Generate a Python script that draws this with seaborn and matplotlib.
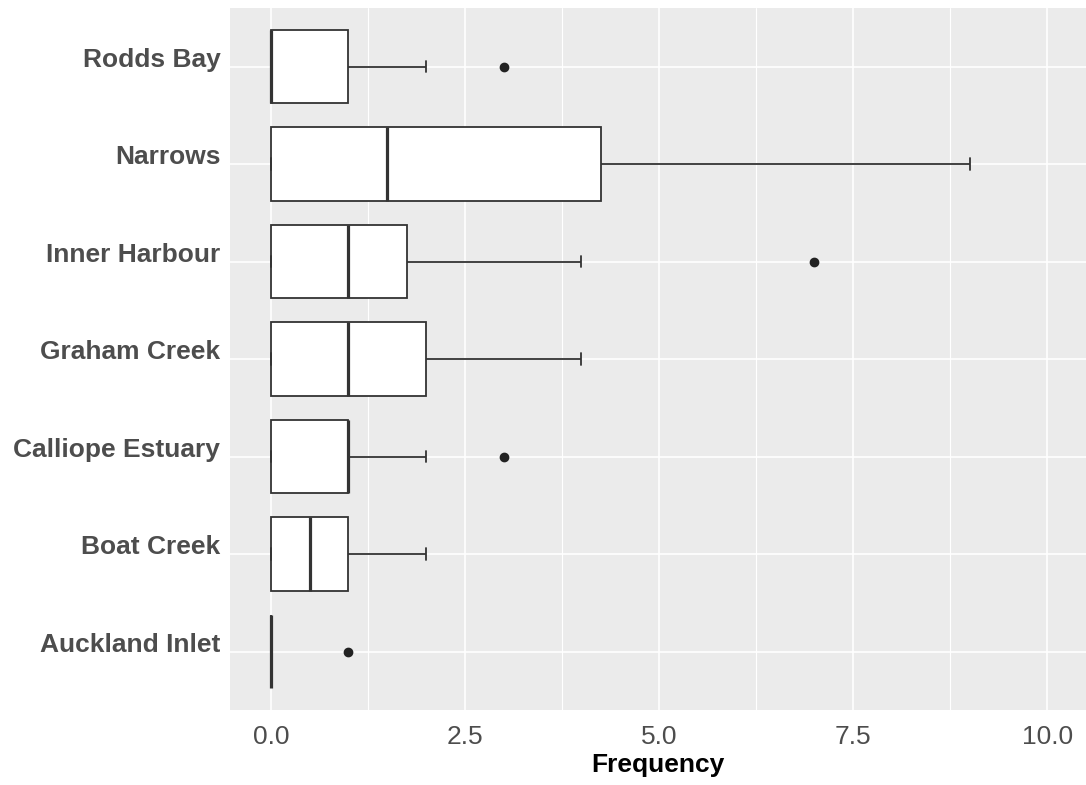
import pandas as pd
import numpy as np
import matplotlib
matplotlib.use('Agg')
import matplotlib.pyplot as plt
import seaborn as sns

# ── Data: counts per site (chosen so the box stats match the chart) ─────
sites = ['Rodds Bay', 'Narrows', 'Inner Harbour', 'Graham Creek',
         'Calliope Estuary', 'Boat Creek', 'Auckland Inlet']
rodds_bay        = [0, 0, 0, 0, 0, 1, 1, 2, 3]
narrows          = [0, 0, 0, 1, 2, 4, 5, 9]
inner_harbour    = [0, 0, 0, 1, 1, 1, 4, 7]
graham_creek     = [0, 0, 1, 2, 4]
calliope_estuary = [0, 0, 0, 1, 1, 1, 1, 2, 3]
boat_creek       = [0, 0, 0, 1, 1, 2]
auckland_inlet   = [0, 0, 0, 0, 1]

counts = [rodds_bay, narrows, inner_harbour, graham_creek,
          calliope_estuary, boat_creek, auckland_inlet]
df = pd.DataFrame({
    'Site': np.repeat(sites, [len(c) for c in counts]),
    'Frequency': np.concatenate(counts),
})

# ── Styling ───────────────────────────────────────────────────────────────
sns.set_style('white')
plt.rcParams['font.family'] = ['Liberation Sans', 'DejaVu Sans']
LINE = '#333333'
TEXT = '#4D4D4D'

fig = plt.figure(figsize=(10.86, 7.85), dpi=100)
ax = fig.add_axes([230 / 1086, 1 - 710 / 785, 1 - 230 / 1086, (710 - 8) / 785])
ax.set_facecolor('#EBEBEB')

sns.boxplot(data=df, x='Frequency', y='Site', order=sites, ax=ax,
            width=0.75, color='white', linecolor=LINE, linewidth=1.3,
            whis=1.5, capwidths=0.12,
            medianprops=dict(linewidth=2.3, color=LINE),
            flierprops=dict(marker='o', markerfacecolor='#222222',
                            markeredgecolor='#222222', markersize=6))

ax.set_xlim(-0.525, 10.5)
ax.set_ylim(6.6, -0.6)
ax.set_xticks([0, 2.5, 5, 7.5, 10])
ax.set_xticklabels(['0.0', '2.5', '5.0', '7.5', '10.0'])
ax.set_xticks([1.25, 3.75, 6.25, 8.75], minor=True)
ax.grid(True, which='major', color='white', linewidth=1.2)
ax.grid(True, which='minor', axis='x', color='white', linewidth=0.8)
ax.set_axisbelow(True)
for s in ax.spines.values():
    s.set_visible(False)

ax.tick_params(axis='both', which='major', length=4, width=1, color=LINE,
               labelsize=19, labelcolor=TEXT)
ax.tick_params(axis='x', which='major', pad=7)
ax.tick_params(axis='y', which='major', pad=3)
ax.tick_params(axis='x', which='minor', length=0)
# labels sit on the tick line (baseline aligned), like the original
for lbl in ax.get_yticklabels():
    lbl.set_fontweight('bold')
    lbl.set_verticalalignment('baseline')

ax.set_ylabel('')
ax.set_xlabel('Frequency', fontsize=19, fontweight='bold', color='black', labelpad=3)

plt.savefig('out.png', dpi=100)
plt.close()
